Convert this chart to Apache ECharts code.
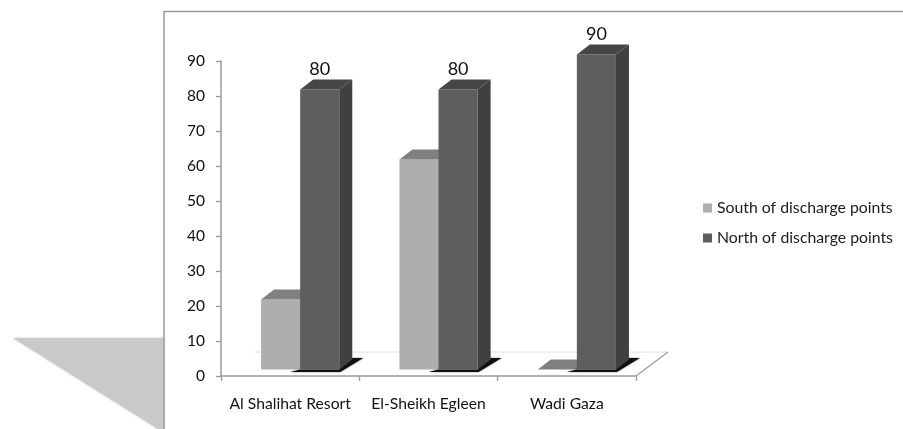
<!DOCTYPE html>
<html>
<head>
<meta charset="utf-8">
<style>
html,body{margin:0;padding:0;background:#fff;}
#c{width:903px;height:429px;filter:blur(0.45px);}
</style>
<script src="https://cdn.jsdelivr.net/npm/echarts@6/dist/echarts.min.js"></script>
</head>
<body>
<div id="c"></div>
<script>
const categories = ['Al Shalihat Resort', 'El-Sheikh Egleen', 'Wadi Gaza'];
const southValues = [20, 60, 0];
const northValues = [80, 80, 90];
const seriesNames = ['South of discharge points', 'North of discharge points'];

const FONT = 'Lato, "Open Sans", sans-serif';
const depthX = 13, depthY = 10, lift = 6.5;

function poly(points, fill, extra) {
  return Object.assign({type: 'polygon', shape: {points}, style: {fill}, silent: true}, extra || {});
}

function barRenderer(isNorth, front, top, side) {
  return function (params, api) {
    const i = api.value(0), v = api.value(1);
    const base = api.coord([i, 0]);
    const tip = api.coord([i, v]);
    const cw = api.size([1, 0])[0];
    const bw = cw * 0.2825;
    const seam = base[0] + cw * 0.0725;
    const x0 = isNorth ? seam : seam - bw;
    const x1 = x0 + bw;
    const yb = base[1] - lift, yt = tip[1] - lift;
    const kids = [];
    if (isNorth) {
      kids.push({type: 'polygon', silent: true,
        shape: {points: [[x0 - 10, yb + 2.5], [x1 + 1, yb + 2.5], [x1 + 24, yb - 11.5], [x1 + 12, yb - 11.5], [x1, yb], [x0, yb]]},
        style: {fill: '#111', shadowBlur: 2, shadowColor: 'rgba(0,0,0,0.5)'}});
    }
    if (v > 0) {
      kids.push({type: 'rect', shape: {x: x0, y: yt, width: bw, height: yb - yt}, style: {fill: front}, silent: true});
    }
    kids.push(poly([[x1, yt], [x1 + depthX, yt - depthY], [x1 + depthX, yb - depthY], [x1, yb]], side));
    kids.push(poly([[x0, yt], [x0 + depthX, yt - depthY], [x1 + depthX, yt - depthY], [x1, yt]], top));
    if (isNorth) {
      kids.push({type: 'text', silent: true, style: {
        text: String(v), x: (x0 + x1) / 2, y: yt - 20, align: 'center', verticalAlign: 'middle',
        font: '18px ' + FONT, fill: '#111'}});
    }
    return {type: 'group', children: kids};
  };
}

function floorRenderer(params) {
  const c = params.coordSys;
  const x0 = c.x, x1 = c.x + c.width, y = c.y + c.height;
  const line = (a, b, color, w) => ({type: 'line', shape: {x1: a[0], y1: a[1], x2: b[0], y2: b[1]},
    style: {stroke: color, lineWidth: w}, silent: true});
  return {type: 'group', children: [
    line([x0 + 34, y - 24], [x1 + 32, y - 24], '#dedede', 1),
    line([x1, y], [x1 + 32, y - 24], '#a0a0a0', 1.3)
  ]};
}

const chart = echarts.init(document.getElementById('c'), null, {renderer: 'canvas'});
chart.setOption({
  animation: false,
  backgroundColor: '#fff',
  grid: {left: 221, top: 61, width: 415, height: 315},
  graphic: [
    {type: 'polygon', z: -1, silent: true, shape: {points: [[13, 338], [164, 338], [164, 429], [158, 429]]},
      style: {fill: '#c9c9c9', shadowBlur: 3, shadowColor: '#d0d0d0'}},
    {type: 'line', z: -1, silent: true, shape: {x1: 164, y1: 11.5, x2: 903, y2: 11.5}, style: {stroke: '#9a9a9a', lineWidth: 1.5}},
    {type: 'line', z: -1, silent: true, shape: {x1: 164, y1: 11, x2: 164, y2: 429}, style: {stroke: '#9a9a9a', lineWidth: 1.5}}
  ],
  legend: {
    orient: 'vertical', left: 698, top: 195, itemWidth: 9, itemHeight: 9, itemGap: 14,
    icon: 'rect', data: seriesNames,
    textStyle: {fontFamily: FONT, fontSize: 15.8, color: '#1c1c1c'}
  },
  xAxis: {
    type: 'category', data: categories, boundaryGap: true,
    axisLine: {lineStyle: {color: '#9a9a9a', width: 1.5}},
    axisTick: {show: true, alignWithLabel: false, length: 5, lineStyle: {color: '#9a9a9a', width: 1.3}},
    axisLabel: {margin: 20, color: '#111', fontFamily: FONT, fontSize: 15.7, interval: 0},
    splitLine: {show: false}
  },
  yAxis: {
    type: 'value', min: 0, max: 90, interval: 10,
    axisLine: {show: true, lineStyle: {color: '#9a9a9a', width: 1.5}},
    axisTick: {show: true, length: 5, lineStyle: {color: '#9a9a9a', width: 1.3}},
    axisLabel: {margin: 16, color: '#111', fontFamily: FONT, fontSize: 15.5},
    splitLine: {show: false}
  },
  series: [
    {type: 'custom', name: 'floor', z: 1, silent: true, clip: false, data: [[0, 0]], renderItem: floorRenderer},
    {type: 'custom', name: seriesNames[0], z: 2, clip: false, itemStyle: {color: '#adadad'},
      data: southValues.map((v, i) => [i, v]), encode: {x: 0, y: 1},
      renderItem: barRenderer(false, '#aeaeae', '#808080', '#808080')},
    {type: 'custom', name: seriesNames[1], z: 3, clip: false, itemStyle: {color: '#5e5e5e'},
      data: northValues.map((v, i) => [i, v]), encode: {x: 0, y: 1},
      renderItem: barRenderer(true, '#5e5e5e', '#464646', '#404040')}
  ]
});
</script>
</body>
</html>
